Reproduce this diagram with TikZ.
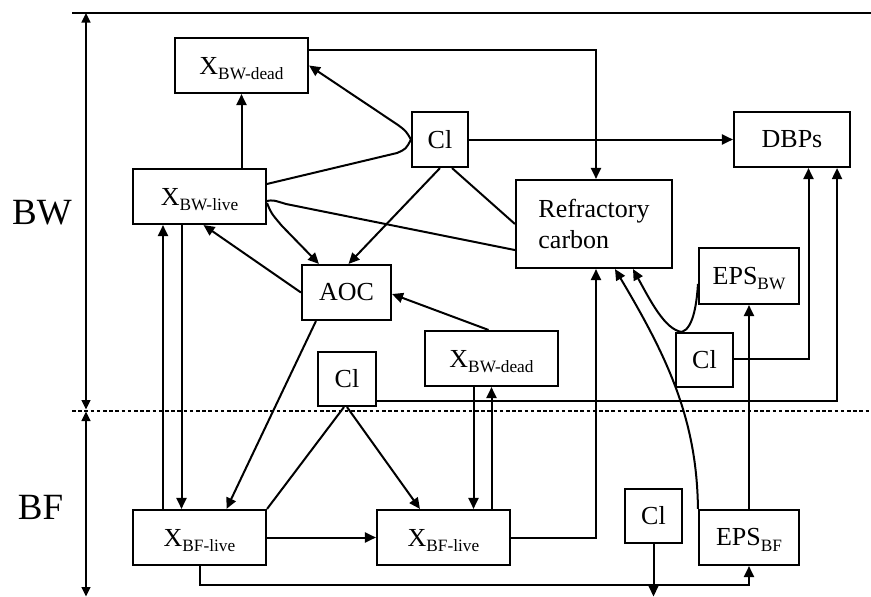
\documentclass[tikz,border=0pt]{standalone}
\usepackage{fontspec}
\setmainfont{Liberation Serif}
\usetikzlibrary{arrows.meta,calc}
\newcommand{\Xs}[2]{#1\raisebox{-5.5pt}[0pt][0pt]{\fontsize{17.3}{18}\selectfont #2}}
\begin{document}
\begin{tikzpicture}[x=1pt,y=-1pt,
  box/.style={draw, line width=2.1pt, inner sep=0pt, font=\fontsize{26}{31.7}\selectfont},
  arr/.style={line width=2pt, -{Triangle[length=11pt,width=10pt]}},
  ln/.style={line width=2pt},
  axisarr/.style={line width=1.4pt, {Triangle[length=9.5pt,width=9pt]}-{Triangle[length=9.5pt,width=9pt]}},
  lab/.style={font=\fontsize{37}{40}\selectfont}]
\useasboundingbox (0,0) rectangle (871,597);
% frame lines
\coordinate (tl) at (72,13);
\coordinate (tr) at (871,13);
\coordinate (dl) at (72,410.5);
\coordinate (dr) at (871,410.5);
\draw[line width=1.8pt] (tl) -- (tr);
\draw[line width=2pt, dash pattern=on 3.5pt off 2.7pt] (dl) -- (dr);
\coordinate (atop) at (86,13);
\coordinate (amid1) at (86,409.5);
\coordinate (amid2) at (86,411.5);
\coordinate (abot) at (86,596.5);
\draw[axisarr] (atop) -- (amid1);
\draw[axisarr] (amid2) -- (abot);
\node[lab] (bw) at (42,212.5) {BW};
\node[lab] (bf) at (40.5,507) {BF};
% boxes
\node[box,minimum width=133pt,minimum height=55pt] (xbwd) at (241.5,65.5) {\Xs{X}{BW-dead}};
\node[box,minimum width=56pt,minimum height=55pt] (cl1) at (440,139.5) {Cl};
\node[box,minimum width=116pt,minimum height=55pt] (dbps) at (792,139.5) {DBPs};
\node[box,minimum width=133pt,minimum height=55pt] (xbwl) at (199.5,196.5) {\Xs{X}{BW-live}};
\node[box,minimum width=156pt,minimum height=88pt,align=left] (rc) at (594,224) {Refractory\\carbon};
\node[box,minimum width=89pt,minimum height=55pt] (aoc) at (346.5,292.5) {AOC};
\node[box,minimum width=100pt,minimum height=56pt] (epsbw) at (749,276) {\Xs{EPS}{BW}};
\node[box,minimum width=133pt,minimum height=55pt] (xbwd2) at (491.5,358.5) {\Xs{X}{BW-dead}};
\node[box,minimum width=58pt,minimum height=54pt] (cl2) at (347,379) {Cl};
\node[box,minimum width=57pt,minimum height=54pt] (cl3) at (704.5,360) {Cl};
\node[box,minimum width=133pt,minimum height=55pt] (xbfl1) at (199.5,537.5) {\Xs{X}{BF-live}};
\node[box,minimum width=133pt,minimum height=55pt] (xbfl2) at (443.5,537.5) {\Xs{X}{BF-live}};
\node[box,minimum width=57pt,minimum height=54pt] (cl4) at (653.5,516) {Cl};
\node[box,minimum width=100pt,minimum height=55pt] (epsbf) at (749,537.5) {\Xs{EPS}{BF}};
% connectors
\draw[arr] ($(xbwd.north east)+(0,13)$) -| ($(rc.north)+(2,0)$);
\draw[arr] (cl1.west) .. controls (406,131) .. (398,125) -- (xbwd.east);
\draw[ln] (cl1.west) .. controls (406,149) .. (397,153) -- ($(xbwl.north east)+(0,16)$);
\draw[arr] (xbwl.north -| xbwd.south) -- (xbwd.south);
\draw[arr] (cl1.east) -- (dbps.west);
\draw[arr] (cl1.south) -- ($(aoc.north)+(2,0)$);
\draw[ln] ($(cl1.south)+(12,0)$) -- (rc.west);
\draw[ln] ($(xbwl.north east)+(0,33)$) .. controls (273,200) .. (286,204) -- ($(rc.south west)+(0,-19)$);
\draw[arr] ($(xbwl.north east)+(0,35)$) .. controls (271,213) .. (282,226) -- ($(aoc.north west)+(18,0)$);
\draw[arr] (aoc.west) -- ($(xbwl.south)+(4,0)$);
\draw[arr] ($(xbwd2.north)+(-3,0)$) -- ($(aoc.east)+(0,1.5)$);
\draw[arr] ($(aoc.south west)+(15,0)$) -- ($(xbfl1.north)+(27,0)$);
\draw[arr] ($(xbfl1.north)+(-36.5,0)$) -- ($(xbwl.south)+(-36.5,0)$);
\draw[arr] ($(xbwl.south)+(-18,0)$) -- ($(xbfl1.north)+(-18,0)$);
\draw[ln] ($(cl2.south)+(-3,0)$) -- (xbfl1.north east);
\draw[arr] (cl2.south) -- ($(xbfl2.north west)+(44,0)$);
\draw[arr] ($(cl2.south east)+(0,-6)$) -| ($(dbps.south east)+(-14,0)$);
\draw[arr] ($(cl3.east)+(0,-1.5)$) -| ($(dbps.south)+(16.5,0)$);
\draw[arr] ($(cl3.north west)+(7,0)$) .. controls (665,330) and (650,300) .. ($(rc.south)+(39,0)$);
\draw[ln] ($(cl3.north west)+(7,0)$) .. controls (694,328) and (697,300) .. ($(epsbw.north west)+(0,37)$);
\draw[arr] (epsbf.north west) .. controls (697,420) and (668,358) .. ($(rc.south)+(21,0)$);
\draw[arr] (xbfl2.east) -| ($(rc.south)+(2,0)$);
\draw[arr] ($(xbwd2.south)+(-18,0)$) -- ($(xbfl2.north)+(30,0)$);
\draw[arr] ($(xbfl2.north)+(48,0)$) -- (xbwd2.south);
\draw[arr] (xbfl1.east) -- (xbfl2.west);
\draw[arr] (xbfl1.south) -- ++(0,19) -| (epsbf.south);
\coordinate (clout) at (653.5,596.5);
\draw[arr] (cl4.south) -- (clout);
\draw[arr] (epsbf.north) -- (epsbw.south);
\end{tikzpicture}
\end{document}
